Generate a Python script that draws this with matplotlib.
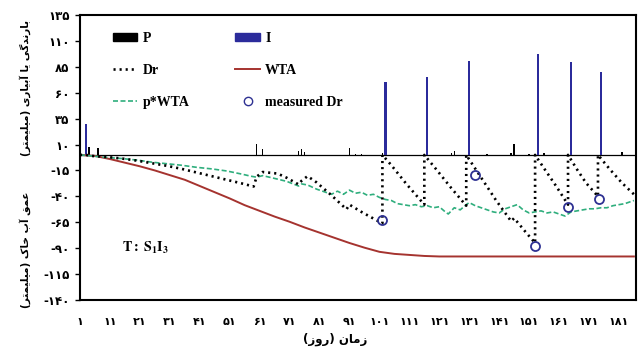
import matplotlib
matplotlib.use('Agg')
import matplotlib.pyplot as plt
from matplotlib.lines import Line2D
from matplotlib.patches import Patch

# ---------------- data ----------------
days_P = [4, 7, 60, 62, 74, 75, 76, 91, 93, 95, 102, 125, 126, 137, 145, 146, 151, 156, 182]
P = [7.5, 6.5, 11, 6, 4, 6, 3, 7, 1, 1, 1.5, 1.5, 4, 1, 2, 10.5, 1, 1.5, 3]

days_I = [3, 103, 117, 131, 154, 165, 175]
I = [30, 70, 75, 91, 97, 90, 80]

days_Dr = [1, 3, 5, 10, 15, 20, 25, 30, 35, 40, 45, 50, 55, 59, 60, 62, 67, 70, 74, 75, 77,
           80, 85, 90, 91, 95, 100, 102, 102, 105, 110, 116, 116, 120, 125, 130, 130, 135,
           140, 145, 146, 150, 153, 153, 156, 160, 164, 164, 167, 170, 174, 174, 178, 182, 186]
Dr = [0, 0, -1, -2, -3.5, -5.5, -8, -10.5, -13.5, -17, -20.5, -24, -27.5, -30.5, -21, -16.5,
      -18, -22, -28.5, -25, -20.5, -26.5, -39, -52.5, -48, -55, -63, -66, 0, -10, -28, -48,
      0, -14, -32, -49, 0, -22, -44, -64, -61, -75, -85, 0, -13, -30, -48, 0, -14, -27, -40,
      0, -14, -27, -38]

days_WTA = [1, 6, 11, 16, 21, 26, 31, 36, 41, 46, 51, 56, 61, 66, 71, 76, 81, 86, 91, 96,
            101, 106, 111, 116, 121, 186]
WTA = [0, -1, -4, -7.5, -11, -15, -19.5, -24, -30, -36, -42, -48.5, -54, -59.5, -64.5, -70,
       -75, -80, -85, -89.5, -93.5, -95.5, -96.5, -97.5, -98, -98]

days_pWTA = [1, 5, 10, 15, 20, 25, 30, 35, 40, 45, 50, 55, 58, 60, 62, 65, 70, 74, 75, 77,
             80, 83, 85, 87, 89, 91, 93, 95, 97, 99, 101, 103, 105, 107, 109, 111, 113, 115,
             117, 119, 121, 123, 124, 126, 128, 130, 131, 133, 135, 137, 139, 141, 143, 145,
             147, 149, 151, 153, 155, 157, 159, 161, 163, 165, 167, 169, 171, 173, 175, 177,
             179, 181, 183, 185, 186]
pWTA = [0, -1, -2.5, -3.5, -5, -7, -8.5, -10, -12, -13.5, -15.5, -18.5, -20.5, -21.5, -20,
        -22, -25.5, -30, -28, -29, -33, -36, -38, -35, -38, -34, -37, -36, -39, -38, -41, -43,
        -44, -47, -48, -49, -48, -50, -49, -51, -50, -55, -57, -51, -53, -48, -46, -49, -51,
        -53, -55, -56, -52, -50, -48, -53, -56, -55, -54, -56, -55, -57, -59, -55, -54, -53,
        -52, -52, -51, -51, -49, -48, -47, -45, -44]

days_meas = [102, 133, 153, 164, 174.5]
meas_Dr = [-63, -19, -88, -50, -43]

yticks = [135, 110, 85, 60, 35, 10, -15, -40, -65, -90, -115, -140]
xticks = list(range(1, 182, 10))

# ---------------- Persian text helpers ----------------
FORMS = {  # iso, fin, ini, med
    'ب': ('\uFE8F', '\uFE90', '\uFE91', '\uFE92'),
    'ت': ('\uFE95', '\uFE96', '\uFE97', '\uFE98'),
    'خ': ('\uFEA5', '\uFEA6', '\uFEA7', '\uFEA8'),
    'ع': ('\uFEC9', '\uFECA', '\uFECB', '\uFECC'),
    'ق': ('\uFED5', '\uFED6', '\uFED7', '\uFED8'),
    'ل': ('\uFEDD', '\uFEDE', '\uFEDF', '\uFEE0'),
    'م': ('\uFEE1', '\uFEE2', '\uFEE3', '\uFEE4'),
    'ن': ('\uFEE5', '\uFEE6', '\uFEE7', '\uFEE8'),
    'ک': ('\uFB8E', '\uFB8F', '\uFB90', '\uFB91'),
    'گ': ('\uFB92', '\uFB93', '\uFB94', '\uFB95'),
    'ی': ('\uFBFC', '\uFBFD', '\uFBFE', '\uFBFF'),
    'ا': ('\uFE8D', '\uFE8E', None, None),
    'آ': ('\uFE81', '\uFE82', None, None),
    'د': ('\uFEA9', '\uFEAA', None, None),
    'ر': ('\uFEAD', '\uFEAE', None, None),
    'ز': ('\uFEAF', '\uFEB0', None, None),
    'و': ('\uFEED', '\uFEEE', None, None),
}


def dual(c):
    return c in FORMS and FORMS[c][2] is not None


def persian(text):
    out = []
    for i, c in enumerate(text):
        if c not in FORMS:
            out.append(c)
            continue
        prev = text[i - 1] if i > 0 else ''
        nxt = text[i + 1] if i + 1 < len(text) else ''
        jp = dual(prev)
        jn = dual(c) and nxt in FORMS
        f = FORMS[c]
        if jp and jn:
            out.append(f[3])
        elif jp:
            out.append(f[1])
        elif jn:
            out.append(f[2])
        else:
            out.append(f[0])
    vis = ''.join(reversed(out))
    return vis.translate(str.maketrans('()', ')('))


PD = str.maketrans('0123456789', '۰۱۲۳۴۵۶۷۸۹')


def pnum(v):
    return str(v).translate(PD)


# ---------------- figure ----------------
fig = plt.figure(figsize=(6.39, 3.49), dpi=100)
ax = fig.add_axes([80 / 639, 1 - 300 / 349, 556 / 639, 285 / 349])

c_I = '#2b2b9b'
c_WTA = '#a5332f'
c_p = '#2fae7d'
c_meas = '#2e3192'

ax.axhline(0, color='black', lw=0.9, zorder=2)
ax.bar(days_P, P, width=0.5, color='black', zorder=3)
ax.bar(days_I, I, width=0.75, color=c_I, zorder=3)
ax.plot(days_WTA, WTA, color=c_WTA, lw=1.4, zorder=4)
ax.plot(days_pWTA, pWTA, color=c_p, lw=1.2, ls=(0, (3, 1.5)), zorder=4)
ax.plot(days_Dr, Dr, color='black', lw=1.9, ls=(0, (0.8, 1.5)), zorder=5)
ax.plot(days_meas, meas_Dr, ls='none', marker='o', ms=6.5, mfc='none', mec=c_meas, mew=1.3, zorder=6)

ax.set_xlim(1, 186.7)
ax.set_ylim(-140, 135)
ax.set_yticks(yticks)
ax.set_yticklabels([('-' + pnum(-v)) if v < 0 else pnum(v) for v in yticks])
ax.set_xticks(xticks)
ax.set_xticklabels([pnum(v) for v in xticks])
ax.tick_params(axis='x', length=0, pad=12)
ax.tick_params(axis='y', length=3.5, width=1, direction='out', pad=4)
for lab in ax.get_xticklabels():
    lab.set_fontfamily('DejaVu Sans')
    lab.set_fontweight('bold')
    lab.set_fontsize(8)
for lab in ax.get_yticklabels():
    lab.set_fontfamily('DejaVu Sans')
    lab.set_fontweight('bold')
    lab.set_fontsize(8.5)
for s in ax.spines.values():
    s.set_linewidth(1.5)

handles = [
    Patch(facecolor='black', edgecolor='black'),
    Line2D([], [], color='black', lw=1.9, ls=(0, (0.8, 1.5))),
    Line2D([], [], color=c_p, lw=1.2, ls=(0, (3, 1.5))),
    Patch(facecolor=c_I, edgecolor=c_I),
    Line2D([], [], color=c_WTA, lw=1.4),
    Line2D([], [], ls='none', marker='o', ms=6, mfc='none', mec=c_meas, mew=1.0),
]
labels = ['P', 'Dr', 'p*WTA', 'I', 'WTA', 'measured Dr']
leg = ax.legend(handles, labels, ncol=2, loc='upper left', bbox_to_anchor=(0.059, 0.94),
                frameon=False, borderpad=0, borderaxespad=0, handlelength=1.75,
                handleheight=0.5, handletextpad=0.4, labelspacing=1.35, columnspacing=3.3,
                prop={'family': 'Liberation Serif', 'weight': 'bold', 'size': 10})

plt.rcParams['mathtext.fontset'] = 'stix'
ax.text(0.0755, 0.182, r'$\mathbf{T:\ S_1I_3}$', transform=ax.transAxes, fontsize=10,
        ha='left', va='center')

fig.text(25 / 639, 1 - 88 / 349, persian('بارندگی یا آبیاری (میلیمتر)'), rotation=90,
         ha='center', va='center', fontsize=7.5, fontweight='bold', family='DejaVu Sans')
fig.text(25 / 639, 1 - 250 / 349, persian('عمق آب خاک (میلیمتر)'), rotation=90,
         ha='center', va='center', fontsize=7.5, fontweight='bold', family='DejaVu Sans')
fig.text(335 / 639, 1 - 339 / 349, persian('زمان (روز)'), ha='center', va='center',
         fontsize=8.5, fontweight='bold', family='DejaVu Sans')

fig.savefig('out.png', dpi=100)
